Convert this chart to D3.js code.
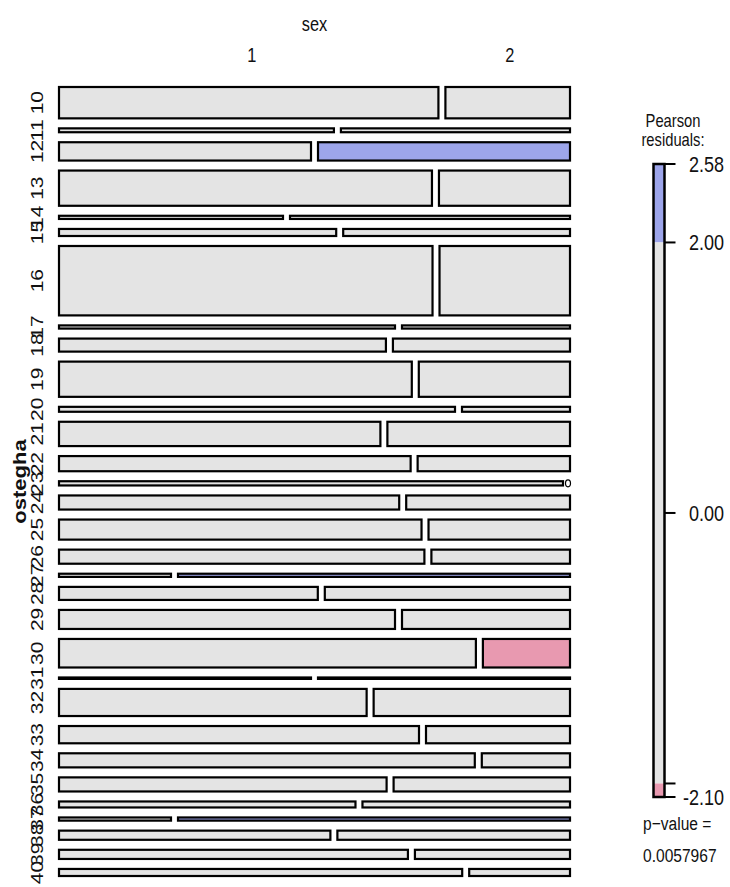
<!DOCTYPE html>
<html>
<head>
<meta charset="utf-8">
<script src="https://cdn.jsdelivr.net/npm/d3@7"></script>
<style>
  body { margin: 0; background: #fff; }
</style>
</head>
<body>
<div id="chart"></div>
<script>
// ostegha levels (rows) and the counts for sex 1 / sex 2 in each
const ages = ["10","11","12","13","14","15","16","17","18","19","20","21","22","23","24","25",
              "26","27","28","29","30","31","32","33","34","35","36","37","38","39","40"];
const male   = [67, 6, 26, 74, 4, 11, 146, 6, 24, 70, 11, 44, 30, 12, 27, 41,
                29, 2, 19, 36, 67, 2, 47, 35, 33, 26, 10, 2, 14, 18, 16];
const female = [22, 5, 26, 26, 5, 9, 51, 3, 13, 30, 3, 25, 13, 0, 13, 16,
                11, 7, 18, 18, 14, 2, 30, 14, 7, 14, 7, 7, 12, 8, 4];
const sexLevels = ["1", "2"];

// legend
const legendTicks = [2.58, 2.00, 0.00, -2.00, -2.10];
const legendLabels = [2.58, 2.00, 0.00, -2.10];
const pValue = "0.0057967";

const W = 730, H = 887;
const font = "'Liberation Sans', Arial, sans-serif";
const sx = 0.82;   // text in the picture is squeezed sideways

const svg = d3.select("#chart")
  .append("svg")
  .attr("width", W)
  .attr("height", H)

// put a text with the sideways squeeze
const label = (x, y, s, size, anchor, rot, weight) => {
  svg.append("text")
    .attr("transform", `translate(${x},${y}) scale(${sx},1)` + (rot ? " rotate(-90)" : ""))
    .attr("text-anchor", anchor)
    .attr("dominant-baseline", rot ? "central" : "auto")
    .attr("font-family", font)
    .attr("font-size", size)
    .attr("font-weight", weight || "normal")
    .attr("fill", "#111")
    .text(s)
}

// residuals of the independence model
const rowTot = ages.map((a, i) => male[i] + female[i]);
const N = d3.sum(rowTot);
const colTot = [d3.sum(male), d3.sum(female)];
const resid = (o, i, j) => {
  let e = rowTot[i] * colTot[j] / N;
  return (o - e) / Math.sqrt(e);
}
const shade = (r) => (r >= 2 ? "#9DA5EA" : (r <= -2 ? "#E899B0" : "#E4E4E4"));

// mosaic geometry
const x0 = 59, x1 = 570, colGap = 7;
const y0 = 87, y1 = 876, rowGap = 10;
const hScale = d3.scaleLinear()
  .domain([0, N])
  .range([0, (y1 - y0) - rowGap * (ages.length - 1)]);
const wScale = d3.scaleLinear()
  .domain([0, 1])
  .range([0, (x1 - x0) - colGap]);

const before = [0].concat(Array.from(d3.cumsum(rowTot)));
const rows = ages.map((a, i) => ({
  age: a,
  y: y0 + hScale(before[i]) + i * rowGap,
  h: hScale(rowTot[i]),
  wm: wScale(male[i] / rowTot[i]),
  wf: wScale(female[i] / rowTot[i]),
  cm: shade(resid(male[i], i, 0)),
  cf: shade(resid(female[i], i, 1))
}));

const cells = [];
rows.forEach((r) => {
  cells.push({ x: x0, y: r.y, w: r.wm, h: r.h, fill: r.cm });
  if (r.wf > 0) cells.push({ x: x0 + r.wm + colGap, y: r.y, w: r.wf, h: r.h, fill: r.cf });
});

svg.selectAll("rect.cell")
  .data(cells)
  .enter()
  .append("rect")
  .attr("class", "cell")
  .attr("x", (d) => d.x)
  .attr("y", (d) => d.y)
  .attr("width", (d) => d.w)
  .attr("height", (d) => d.h)
  .attr("fill", (d) => d.fill)
  .attr("stroke", "#000")
  .attr("stroke-width", 2.2)

// empty cells get a little circle at the end
rows.filter((r) => r.wf === 0).forEach((r) => {
  svg.append("ellipse")
    .attr("cx", x1 - 2)
    .attr("cy", r.y + r.h / 2)
    .attr("rx", 2.5)
    .attr("ry", 3.5)
    .attr("fill", "none")
    .attr("stroke", "#000")
    .attr("stroke-width", 1.2)
});

// top labels, placed on the cells of the first row
label((x0 + x1) / 2, 31, "sex", 20, "middle");
label(x0 + rows[0].wm / 2 + 3, 62, sexLevels[0], 20, "middle");
label(x0 + rows[0].wm + colGap + rows[0].wf / 2 + 2, 62, sexLevels[1], 20, "middle");

// left labels
rows.forEach((r) => label(37, r.y + r.h / 2, r.age, 21, "middle", true));
label(20, (y0 + y1) / 2, "ostegha", 22, "middle", true, "bold");

// legend
const ly = d3.scaleLinear()
  .domain([-2.10, 2.58])
  .range([797, 164]);
const lx = 653.5, lw = 11;
const bands = [
  { lo: 2.00, hi: 2.58, fill: shade(2.5) },
  { lo: -2.00, hi: 2.00, fill: shade(0) },
  { lo: -2.10, hi: -2.00, fill: shade(-2.05) }
];
svg.selectAll("rect.band")
  .data(bands)
  .enter()
  .append("rect")
  .attr("class", "band")
  .attr("x", lx)
  .attr("y", (d) => ly(d.hi))
  .attr("width", lw)
  .attr("height", (d) => ly(d.lo) - ly(d.hi))
  .attr("fill", (d) => d.fill)

svg.append("rect")
  .attr("x", lx)
  .attr("y", ly(2.58))
  .attr("width", lw)
  .attr("height", ly(-2.10) - ly(2.58))
  .attr("fill", "none")
  .attr("stroke", "#000")
  .attr("stroke-width", 2.5)

svg.selectAll("line.tick")
  .data(legendTicks)
  .enter()
  .append("line")
  .attr("class", "tick")
  .attr("x1", lx + lw)
  .attr("x2", lx + lw + 11)
  .attr("y1", (d) => ly(d))
  .attr("y2", (d) => ly(d))
  .attr("stroke", "#000")
  .attr("stroke-width", 2)

legendLabels.forEach((v) => label(724, ly(v) + 8, v.toFixed(2), 22, "end"));

label(673, 127, "Pearson", 18, "middle");
label(673, 146, "residuals:", 18, "middle");
label(643, 830, "p\u2212value =", 19, "start");
label(643, 862, pValue, 19, "start");
</script>
</body>
</html>
